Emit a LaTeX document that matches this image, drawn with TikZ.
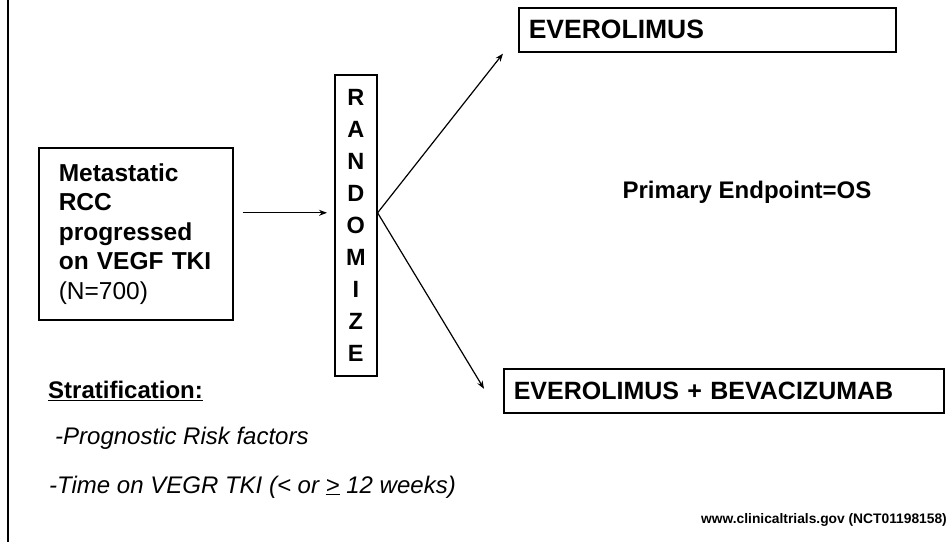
\documentclass[tikz,border=0pt]{standalone}
\usepackage{fontspec}
\setmainfont{Liberation Sans}
\usetikzlibrary{arrows.meta,calc}
\tikzset{
  boxline/.style={draw, line width=1.6pt},
  armarrow/.style={line width=1.2pt, -{Stealth[length=8pt,width=6pt]}},
  plain/.style={inner sep=0pt, font=\fontsize{24}{29}\selectfont},
}
\begin{document}
\begin{tikzpicture}[x=1pt,y=-1pt]
\useasboundingbox (0,0) rectangle (952,542);
\fill[white] (0,0) rectangle (952,542);
% left border line
\coordinate (lt) at (8,0);
\coordinate (lb) at (8,542);
\draw[line width=2pt] (lt) -- (lb);

% patient box
\node[boxline, anchor=north west, minimum width=194, minimum height=172,
      text width=154, inner xsep=20pt, align=left,
      font=\fontsize{24.5}{29.5}\selectfont] (meta) at (38,147)
  {\textbf{Metastatic}\\\textbf{RCC}\\\textbf{progressed}\\\textbf{on VEGF TKI}\\(N=700)};

% randomize box
\node[boxline, anchor=north west, minimum width=42, minimum height=301,
      inner sep=0pt, align=center,
      font=\fontsize{23.5}{32}\selectfont\bfseries] (rand) at (334,74)
  {R\\A\\N\\D\\O\\M\\I\\Z\\E};

% arm boxes
\node[boxline, anchor=north west, minimum width=377, minimum height=44,
      text width=357, inner xsep=10pt, align=left,
      font=\fontsize{26.5}{30}\selectfont\bfseries] (ev) at (518,7) {EVEROLIMUS};
\node[boxline, anchor=north west, minimum width=440, minimum height=44,
      text width=420, inner xsep=10pt, align=left,
      font=\fontsize{25}{30}\selectfont\bfseries] (evb) at (503,368) {EVEROLIMUS + BEVACIZUMAB};

% connectors
\coordinate (fork) at ($(rand.east)+(0,-12.5)$);
\coordinate (upend) at ($(ev.south west)+(-15,1)$);
\coordinate (lowend) at ($(evb.west)+(-19,-2)$);
\draw[armarrow, shorten <=9pt, shorten >=7pt] (meta.east |- fork) -- (rand.west |- fork);
\draw[armarrow] (fork) -- (upend);
\draw[armarrow] (fork) -- (lowend);

% endpoint
\node[plain, font=\fontsize{24}{28}\selectfont\bfseries] (ep) at (747,192) {Primary Endpoint=OS};

% stratification
\node[plain, anchor=west] (strat) at (48,391) {\textbf{\underline{Stratification:}}};
\node[plain, anchor=west, font=\fontsize{24}{29}\selectfont\itshape] (s1) at (55,438) {-Prognostic Risk factors};
\node[plain, anchor=west, font=\fontsize{24}{29}\selectfont\itshape] (s2) at (49,487) {-Time on VEGR TKI (< or \underline{>} 12 weeks)};

% source
\node[plain, anchor=east, font=\fontsize{13.8}{16}\selectfont\bfseries] (src) at (947,520) {www.clinicaltrials.gov (NCT01198158)};
\end{tikzpicture}
\end{document}
